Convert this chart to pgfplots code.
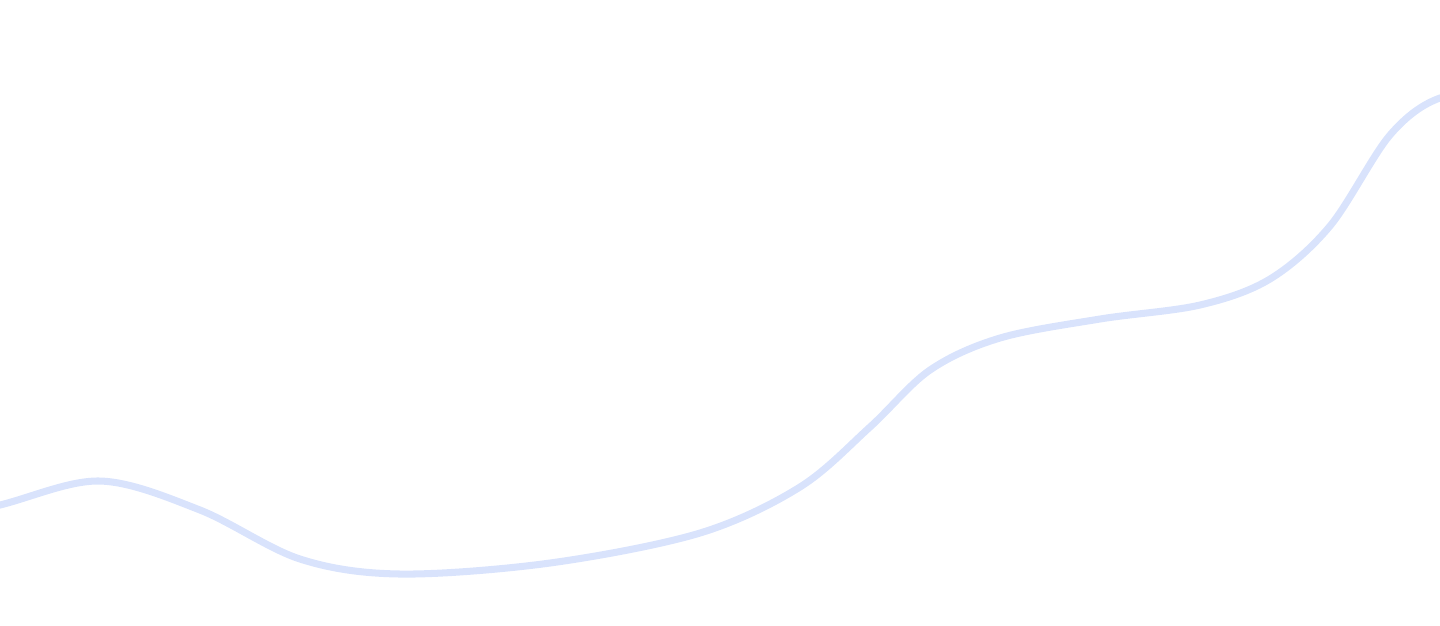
\documentclass[border=0pt]{standalone}
\usepackage{pgfplots}
\pgfplotsset{compat=1.18}
\definecolor{lineblue}{RGB}{217,227,252}
\begin{document}
\begin{tikzpicture}
\begin{axis}[
  width=14.4cm, height=6.25cm, scale only axis,
  xmin=0, xmax=1440, ymin=0, ymax=625,
  hide axis, clip=true,
  y dir=reverse,
]
\addplot[lineblue, line width=2pt, smooth, tension=0.55] coordinates {
(-100,530)
(0,505)
(100,481)
(200,510)
(300,559)
(400,574)
(550,563)
(700,533)
(800,487)
(870,427)
(930,370)
(1000,338)
(1100,319)
(1200,305)
(1270,279)
(1330,226)
(1390,135)
(1440,98)
(1500,96)
};
\end{axis}
\pgfresetboundingbox
\path (current axis.south west) rectangle (current axis.north east);
\end{tikzpicture}
\end{document}
